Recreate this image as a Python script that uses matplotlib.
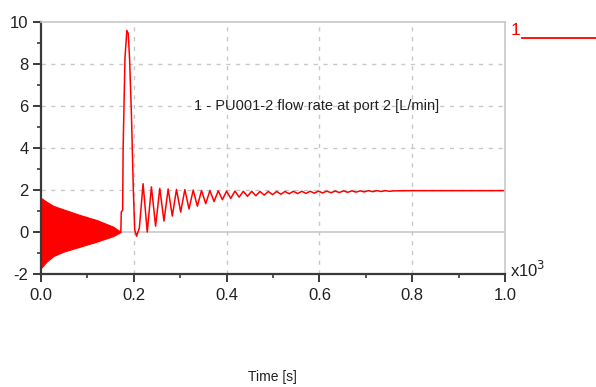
import matplotlib
matplotlib.use("Agg")
import matplotlib.pyplot as plt
from matplotlib.lines import Line2D
from matplotlib.ticker import MultipleLocator

plt.rcParams["font.family"] = ["Liberation Sans", "DejaVu Sans"]
plt.rcParams["axes.unicode_minus"] = False

# envelope of the fast start-up oscillation (filled band)
band_t = [0.0, 0.0015, 0.012, 0.027, 0.048, 0.084, 0.120, 0.156, 0.172]
band_hi = [1.60, 1.60, 1.44, 1.24, 1.08, 0.81, 0.57, 0.25, 0.0]
band_lo = [-1.70, -1.68, -1.41, -1.14, -0.94, -0.70, -0.46, -0.19, 0.0]

# pressure spike after the switch-over
spike_t = [0.172, 0.173, 0.176, 0.177, 0.181, 0.185, 0.188, 0.191, 0.195, 0.199, 0.202, 0.206, 0.212]
spike_q = [0.0, 0.95, 1.05, 4.0, 8.3, 9.6, 9.45, 8.2, 5.5, 2.0, 0.1, -0.2, 0.2]

# damped ringing: turning points (peak, trough, peak, ...)
ring_t = [0.220, 0.229, 0.238, 0.247, 0.256, 0.265, 0.274, 0.283, 0.292, 0.301,
          0.310, 0.319, 0.328, 0.337, 0.346, 0.355, 0.364, 0.373, 0.382, 0.391,
          0.400, 0.409, 0.418, 0.427, 0.436, 0.445, 0.454, 0.463, 0.472, 0.481,
          0.490, 0.499, 0.508, 0.517, 0.526, 0.535, 0.544, 0.553, 0.562, 0.571,
          0.580, 0.589, 0.598, 0.607, 0.616, 0.625, 0.634, 0.643, 0.652, 0.661,
          0.670, 0.679, 0.688, 0.697, 0.706, 0.715, 0.724, 0.733, 0.742, 0.751,
          0.760, 0.800, 0.900, 1.000]
ring_q = [2.30, 0.00, 2.15, 0.28, 2.08, 0.52, 2.05, 0.76, 2.03, 0.95,
          2.02, 1.10, 2.00, 1.23, 1.98, 1.35, 1.97, 1.45, 1.96, 1.54,
          1.95, 1.60, 1.95, 1.66, 1.94, 1.70, 1.94, 1.73, 1.93, 1.76,
          1.93, 1.78, 1.93, 1.80, 1.93, 1.82, 1.94, 1.83, 1.94, 1.84,
          1.94, 1.85, 1.95, 1.86, 1.95, 1.87, 1.95, 1.88, 1.96, 1.89,
          1.96, 1.90, 1.96, 1.91, 1.97, 1.92, 1.97, 1.93, 1.97, 1.94,
          1.96, 1.97, 1.97, 1.97]

RED = "#ff0000"
GREY = "#c8c8c8"
DARK = "#3a3a3a"
INK = "#222222"

fig = plt.figure(figsize=(5.96, 3.87), dpi=100)
ax = fig.add_axes([0.0688, 0.292, 0.7785, 0.651])

ax.fill_between(band_t, band_lo, band_hi, color=RED, linewidth=0.8, edgecolor=RED)
ax.plot(spike_t + ring_t, spike_q + ring_q, color=RED, linewidth=1.1)

ax.set_xlim(0, 1.0)
ax.set_ylim(-2, 10)

# grid: dashed inside, solid line at zero
for gy in [2, 4, 6, 8]:
    ax.axhline(gy, color=GREY, linestyle=(0, (3, 4)), linewidth=1.0, zorder=0)
for gx in [0.2, 0.4, 0.6, 0.8]:
    ax.axvline(gx, color=GREY, linestyle=(0, (3, 4)), linewidth=1.0, zorder=0)
ax.axhline(0, color=GREY, linewidth=1.2, zorder=0)

for side in ["top", "right"]:
    ax.spines[side].set_color(GREY)
    ax.spines[side].set_linewidth(1.2)
for side in ["left", "bottom"]:
    ax.spines[side].set_color(DARK)
    ax.spines[side].set_linewidth(1.6)

ax.xaxis.set_minor_locator(MultipleLocator(0.1))
ax.yaxis.set_major_locator(MultipleLocator(2))
ax.yaxis.set_minor_locator(MultipleLocator(1))
ax.set_xticks([0.0, 0.2, 0.4, 0.6, 0.8, 1.0])
ax.set_xticklabels(["0.0", "0.2", "0.4", "0.6", "0.8", "1.0"])
ax.tick_params(which="major", length=6, width=1.4, color=DARK, labelsize=12,
               labelcolor=INK)
ax.tick_params(which="minor", length=3, width=1.2, color=DARK)
ax.tick_params(axis="x", pad=4)
ax.tick_params(axis="y", pad=3)

ax.text(0.593, 6.0, "1 - PU001-2 flow rate at port 2 [L/min]", fontsize=10.5,
        ha="center", va="center", color=INK)

fig.text(0.457, 0.026, "Time [s]", fontsize=10, ha="center", va="center",
         color=INK)
fig.text(0.856, 0.302, r"x10$^{3}$", fontsize=12, ha="left", va="center",
         color=INK)

# legend entry in the top right corner
fig.text(0.857, 0.922, "1", fontsize=12.5, ha="left", va="center", color=RED)
fig.add_artist(Line2D([0.876, 1.0], [0.902, 0.902], color=RED, linewidth=1.3,
                      transform=fig.transFigure))

fig.savefig("out.png", dpi=100)
